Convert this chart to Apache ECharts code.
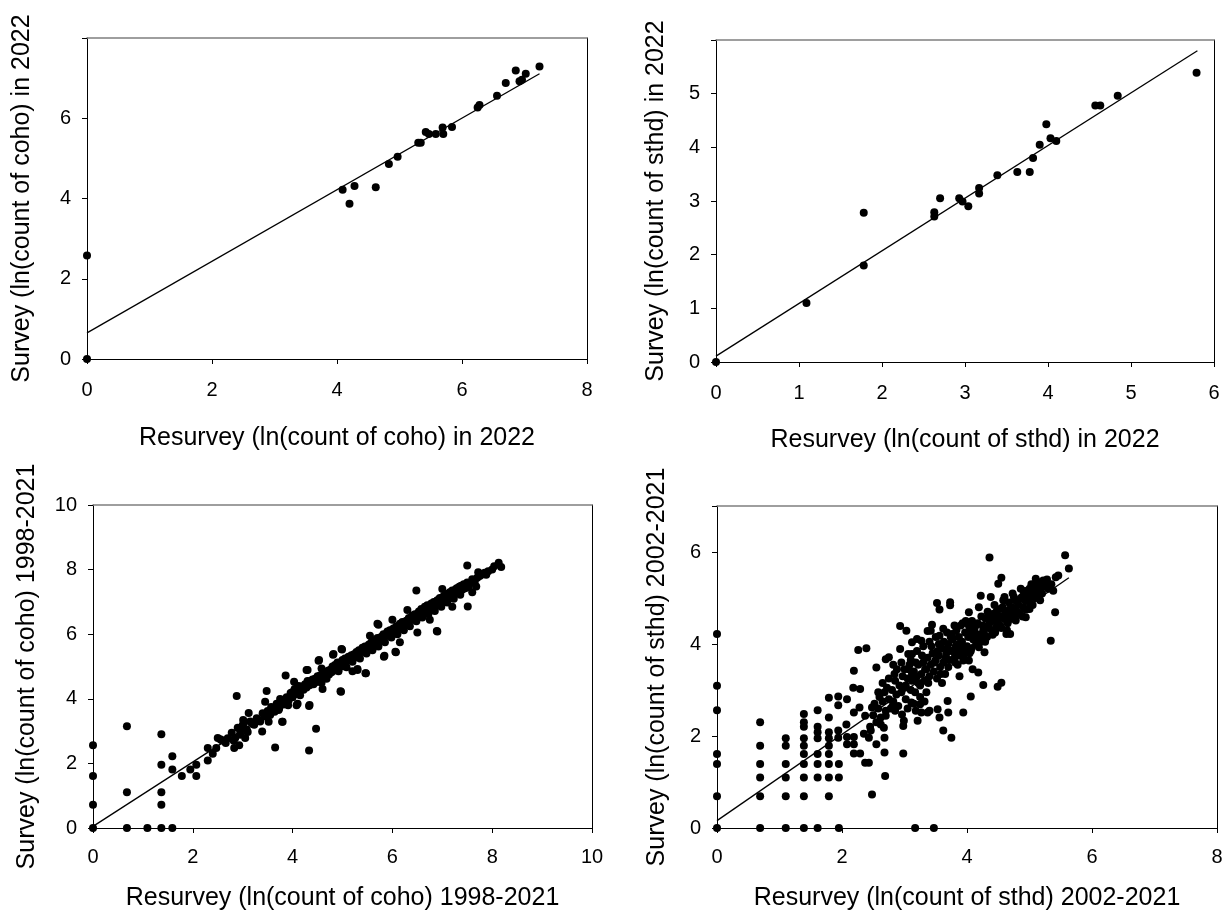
<!DOCTYPE html>
<html>
<head>
<meta charset="utf-8">
<script src="https://cdn.jsdelivr.net/npm/echarts@6/dist/echarts.min.js"></script>
<style>
html,body{margin:0;padding:0;background:#fff;}
#chart{width:1228px;height:922px;}
</style>
</head>
<body>
<div id="chart"></div>
<script>
// ---------- DATA ----------
// Panel A: coho 2022 (x = resurvey, y = survey)
const cohoTwo022 = [
  [0,0],[0,2.58],[4.09,4.22],[4.20,3.87],[4.28,4.31],[4.62,4.28],[4.83,4.86],[4.97,5.04],
  [5.30,5.39],[5.34,5.39],[5.42,5.66],[5.47,5.61],[5.58,5.61],[5.69,5.77],[5.70,5.61],
  [5.84,5.78],[6.25,6.27],[6.28,6.33],[6.56,6.56],[6.70,6.88],[6.86,7.19],[6.92,6.92],
  [6.96,6.96],[7.02,7.11],[7.24,7.29]
];
const cohoTwo022Fit = [[0,0.65],[7.24,7.11]];

// Panel B: steelhead 2022
const sthdTwo022 = [
  [0,0],[1.09,1.10],[1.78,2.78],[1.78,1.80],[2.63,2.79],[2.63,2.71],[2.70,3.05],[2.93,3.05],
  [2.97,2.99],[3.04,2.90],[3.17,3.24],[3.17,3.14],[3.39,3.48],[3.63,3.54],[3.78,3.54],
  [3.82,3.80],[3.90,4.05],[3.98,4.43],[4.03,4.17],[4.10,4.12],[4.57,4.78],[4.63,4.78],
  [4.84,4.96],[5.79,5.39]
];
const sthdTwo022Fit = [[0,0.11],[5.80,5.80]];

// Panel C: coho 1998-2021
const cohoHist = [
  [0,0],[0,0.72],[0,1.61],[0,2.56],[0.68,0],[0.68,1.11],[0.68,3.15],[1.09,0],[1.37,0],
  [1.37,0.72],[1.37,1.11],[1.37,1.96],[1.37,2.90],[1.59,0],[1.59,2.22],[1.59,1.81],
  [1.78,1.61],[1.95,1.81],[2.07,1.96],[2.07,1.61],[2.30,2.09],[2.30,2.48],[2.40,2.30],
  [2.47,2.48],[2.50,2.79],[2.58,2.72],[2.66,2.63],[2.83,2.48],[2.85,2.79],[2.88,4.09],
  [2.93,2.56],[2.95,2.89],[3.00,3.18],[3.01,3.34],[3.05,2.79],[3.10,2.97],[3.12,3.56],
  [3.23,3.20],[3.39,2.99],[3.32,3.34],[3.45,3.91],[3.48,4.24],[3.52,3.29],[3.57,3.75],
  [3.65,2.49],[3.72,3.65],[3.75,3.99],[3.79,3.29],[3.86,4.72],[3.91,3.80],[3.99,4.20],
  [4.03,4.53],[4.08,3.80],[4.15,4.11],[4.19,4.32],[4.30,4.89],[4.33,3.78],[4.33,2.40],
  [4.47,3.07],[4.52,5.18],[4.58,4.94],[4.81,5.36],[4.97,4.22],[4.99,5.53],[5.30,4.89],
  [5.47,4.79],[5.72,6.29],[5.84,5.33],[6.07,5.44],[6.48,7.35],[6.90,6.08],[7.50,8.13],
  [7.51,6.86],[7.72,7.92],[7.68,7.48],[7.88,7.84],[8.04,8.10],[8.13,8.21],[8.18,8.08],
  [2.55,2.75],[2.62,2.70],[2.70,2.78],[2.78,2.95],[2.82,2.70],[2.90,3.10],[2.95,3.00],
  [3.02,3.25],[3.08,3.05],[3.15,3.30],[3.20,3.22],[3.28,3.40],[3.35,3.30],[3.40,3.55],
  [3.44,3.45],[3.50,3.62],[3.55,3.50],[3.60,3.72],[3.64,3.60],[3.68,3.85],[3.73,3.70],
  [3.78,3.95],[3.82,3.82],[3.88,4.05],[3.92,3.95],[3.96,4.18],[4.00,4.05],[4.04,4.30],
  [4.08,4.15],[4.12,4.40],[4.15,4.25],[4.18,4.38],[4.22,4.28],[4.25,4.45],[4.28,4.35],
  [4.30,4.55],[4.34,4.42],[4.37,4.50],[4.40,4.60],[4.42,4.45],[4.45,4.62],[4.48,4.52],
  [4.50,4.70],[4.53,4.58],[4.56,4.65],[4.58,4.50],[4.60,4.75],[4.63,4.68],[4.66,4.80],
  [4.68,4.62],[4.70,4.85],[4.73,4.75],[4.76,4.90],[4.78,4.82],[4.80,5.00],[4.83,4.88],
  [4.85,5.05],[4.88,4.95],[4.90,5.12],[4.92,4.85],[4.95,5.08],[4.98,5.00],[5.00,5.20],
  [5.03,5.10],[5.05,5.25],[5.08,4.98],[5.10,5.18],[5.12,5.30],[5.15,5.22],[5.18,5.35],
  [5.20,5.15],[5.23,5.38],[5.25,5.28],[5.28,5.45],[5.30,5.35],[5.33,5.50],[5.35,5.25],
  [5.38,5.45],[5.40,5.58],[5.43,5.48],[5.45,5.62],[5.48,5.40],[5.50,5.55],[5.53,5.68],
  [5.55,5.60],[5.58,5.75],[5.60,5.50],[5.62,5.70],[5.65,5.82],[5.68,5.72],[5.70,5.88],
  [5.72,5.62],[5.75,5.80],[5.78,5.92],[5.80,5.85],[5.82,6.00],[5.85,5.75],[5.88,5.95],
  [5.90,6.08],[5.92,5.98],[5.95,6.12],[5.98,5.90],[6.00,6.05],[6.02,6.18],[6.05,6.10],
  [6.08,6.25],[6.10,6.00],[6.13,6.20],[6.15,6.32],[6.18,6.22],[6.20,6.38],[6.23,6.12],
  [6.25,6.30],[6.28,6.42],[6.30,6.35],[6.33,6.50],[6.35,6.25],[6.38,6.45],[6.40,6.58],
  [6.42,6.48],[6.45,6.62],[6.48,6.40],[6.50,6.55],[6.53,6.70],[6.55,6.62],[6.58,6.78],
  [6.60,6.52],[6.63,6.68],[6.65,6.85],[6.68,6.75],[6.70,6.90],[6.72,6.62],[6.75,6.80],
  [6.78,6.95],[6.80,6.85],[6.83,7.00],[6.85,6.72],[6.88,6.90],[6.90,7.05],[6.93,6.95],
  [6.95,7.12],[6.98,6.85],[7.00,7.02],[7.03,7.18],[7.05,7.08],[7.08,7.22],[7.10,6.98],
  [7.13,7.12],[7.15,7.30],[7.18,7.20],[7.20,7.35],[7.23,7.10],[7.25,7.25],[7.28,7.40],
  [7.30,7.30],[7.33,7.45],[7.36,7.22],[7.40,7.38],[7.43,7.55],[7.46,7.42],[7.50,7.60],
  [7.53,7.45],[7.56,7.58],[7.60,7.70],[7.65,7.62],[7.70,7.75],[7.75,7.80],[7.80,7.85],
  [7.85,7.90],[7.92,7.95],[8.00,8.00],
  [4.53,5.20],[4.28,4.89],[4.82,5.39],[4.98,5.54],[5.70,6.32],[6.06,5.46],[5.83,5.30],
  [5.46,4.79],[5.30,4.92],[4.96,4.23],[4.34,3.81],[3.80,3.29],[6.89,6.10],[6.30,6.75],
  [6.50,6.05],[6.75,6.45],[7.00,7.40],[5.55,5.95],[5.20,4.85],[6.15,5.75],[7.20,6.85],
  [7.60,7.30],[6.00,6.45],[4.60,4.30],[4.10,3.85],
  [4.02,4.18],[4.06,4.22],[4.10,4.28],[4.14,4.32],[4.20,4.35],[4.24,4.38],[4.27,4.42],
  [4.32,4.48],[4.36,4.55],[4.39,4.48],[4.44,4.55],[4.47,4.62],[4.52,4.65],[4.55,4.72],
  [4.59,4.68],[4.62,4.78],[4.65,4.72],[4.69,4.78],[4.72,4.88],[4.75,4.82],[4.79,4.92],
  [4.82,4.95],[4.86,4.98],[4.89,5.05],[4.93,5.02],[4.96,5.12],[5.01,5.08],[5.04,5.15],
  [5.07,5.22],[5.11,5.25],[5.14,5.28],[5.17,5.22],[5.21,5.32],[5.24,5.35],[5.27,5.38],
  [5.32,5.42],[5.36,5.48],[5.39,5.52],[5.42,5.55],[5.46,5.58],[5.49,5.62],[5.52,5.60],
  [5.56,5.68],[5.59,5.65],[5.63,5.75],[5.66,5.78],[5.69,5.80],[5.73,5.85],[5.76,5.88],
  [5.79,5.85],[5.83,5.95],[5.86,5.98],[5.89,6.02],[5.93,6.05],[5.96,6.02],[5.99,6.12],
  [6.03,6.15],[6.06,6.18],[6.09,6.15],[6.12,6.25],[6.16,6.28],[6.19,6.30],[6.22,6.35],
  [6.26,6.38],[6.29,6.35],[6.32,6.45],[6.36,6.48],[6.39,6.52],[6.43,6.55],[6.46,6.58],
  [6.49,6.62],[6.52,6.65],[6.56,6.68],[6.59,6.72],[6.62,6.75],[6.66,6.78],[6.69,6.82],
  [6.73,6.85],[6.76,6.88],[6.79,6.92],[6.82,6.95],[6.86,6.98],[6.89,7.02],[6.92,7.05],
  [6.96,7.08],[6.99,7.12],[7.02,7.15],[7.06,7.18],[7.09,7.15],[7.12,7.25],[7.16,7.28],
  [7.19,7.32],[7.22,7.30],[7.26,7.38],[7.29,7.42],[7.32,7.38],[7.35,7.48],[7.38,7.50],
  [7.42,7.48]
];
const cohoHistFit = [[0,0.05],[8.18,8.20]];

// Panel D: steelhead 2002-2021
const sthdHist = [
  [0,0],[0,0.69],[0,1.39],[0,1.61],[0,2.56],[0,3.09],[0,4.22],
  [0.69,0],[0.69,0.69],[0.69,1.10],[0.69,1.39],[0.69,1.79],[0.69,2.30],
  [1.10,0],[1.10,0.69],[1.10,1.10],[1.10,1.39],[1.10,1.79],[1.10,1.95],
  [1.39,0],[1.39,0.69],[1.39,1.10],[1.39,1.39],[1.39,1.61],[1.39,1.79],[1.39,1.95],
  [1.39,2.20],[1.39,2.30],[1.39,2.48],
  [1.61,0],[1.61,1.10],[1.61,1.39],[1.61,1.61],[1.61,1.95],[1.61,2.08],[1.61,2.20],[1.61,2.56],
  [1.79,0.69],[1.79,1.10],[1.79,1.39],[1.79,1.61],[1.79,1.79],[1.79,1.95],[1.79,2.08],
  [1.79,2.40],[1.79,2.83],
  [1.95,0],[1.95,1.10],[1.95,1.39],[1.94,1.96],[1.94,2.12],[1.94,2.67],[1.94,2.86],
  [2.08,1.82],[2.08,1.98],[2.08,2.80],[2.07,2.25],
  [2.19,1.62],[2.19,1.82],[2.19,1.98],[2.19,2.51],[2.19,3.42],[2.18,3.05],
  [2.26,3.87],[2.39,3.91],[2.29,3.02],[2.29,1.62],[2.28,2.62],[2.37,2.44],[2.37,1.42],
  [2.43,1.42],[2.43,1.96],[2.46,2.12],[2.48,0.73],[2.55,1.82],[2.62,2.25],[2.67,2.18],
  [2.68,1.96],[2.68,1.64],[2.69,1.13],[2.70,2.44],[2.55,3.49],[2.70,3.67],[2.75,3.71],
  [2.82,3.55],[2.84,3.35],[2.81,2.65],[2.93,3.89],[2.93,4.39],[3.03,4.29],[3.06,3.78],
  [3.12,3.78],[3.20,4.11],[3.27,4.07],[3.12,4.04],[3.42,4.29],[3.44,4.42],[3.37,4.28],
  [3.52,4.89],[3.73,4.91],[3.73,4.84],[3.56,4.75],[3.62,4.33],[3.55,4.00],[3.76,4.22],
  [3.56,4.18],[3.90,4.40],[4.03,4.40],[4.19,4.80],[4.03,4.69],[4.41,4.65],[4.53,4.76],
  [4.56,4.58],[4.66,4.51],[4.78,4.51],[4.94,4.58],[5.00,4.76],[4.63,4.22],[4.69,4.22],
  [4.47,4.36],[4.28,4.15],[4.19,3.93],[4.28,3.82],[4.06,3.85],[4.81,4.65],[3.87,4.00],
  [3.69,3.89],[3.81,3.60],[3.94,3.64],[4.03,3.64],[4.09,3.45],[4.18,3.38],[4.26,3.11],
  [4.49,3.07],[4.55,3.16],[4.06,2.86],[3.94,2.51],[3.75,1.96],[3.62,2.12],[3.70,2.51],
  [3.56,2.40],[3.53,2.58],[3.69,2.76],[3.37,2.51],[3.27,2.51],[3.21,2.33],[2.99,2.33],
  [2.98,2.22],[2.96,2.47],[2.98,1.62],[3.25,2.69],[3.11,2.73],[3.17,0],[3.47,0],
  [4.36,5.88],[5.57,5.93],[5.63,5.64],[5.46,5.49],[4.55,5.44],[4.50,5.31],[5.10,5.42],
  [5.22,5.38],[5.32,5.27],[5.16,5.24],[5.00,5.20],[4.91,5.13],[5.38,5.16],[4.75,5.02],
  [4.88,5.02],[4.60,5.02],[4.22,5.05],[4.38,5.02],[5.41,4.69],[5.34,4.07],
  [2.50,2.45],[2.52,2.70],[2.55,2.30],[2.58,2.60],[2.60,2.85],[2.62,2.40],[2.65,2.75],
  [2.68,2.95],[2.70,2.55],[2.72,3.05],[2.75,2.80],[2.78,2.60],[2.80,3.00],[2.82,2.75],
  [2.85,3.20],[2.87,2.90],[2.90,2.65],[2.92,3.10],[2.95,2.95],[2.97,3.30],[3.00,3.05],
  [3.02,2.80],[3.05,3.25],[3.07,3.45],[3.10,3.00],[3.12,3.20],[3.15,3.40],[3.17,2.95],
  [3.20,3.30],[3.22,3.55],[3.25,3.10],[3.27,3.35],[3.30,3.60],[3.32,3.20],[3.35,3.45],
  [3.37,3.70],[3.40,3.30],[3.42,3.55],[3.45,3.80],[3.47,3.40],[3.50,3.65],[3.52,3.25],
  [3.55,3.75],[3.57,3.50],[3.60,3.90],[3.62,3.60],[3.65,3.35],[3.67,3.80],[3.70,4.00],
  [3.72,3.65],[3.75,3.85],[3.77,4.10],[3.80,3.70],[3.82,3.95],[3.85,3.55],[3.87,4.15],
  [3.90,3.85],[3.92,4.05],[3.95,3.75],[3.97,4.25],[4.00,3.95],[4.02,4.15],[4.05,4.35],
  [4.07,3.90],[4.10,4.10],[4.12,4.30],[4.15,4.00],[4.17,4.45],[4.20,4.20],[4.22,4.05],
  [4.25,4.40],[4.27,4.25],[4.30,4.55],[4.32,4.15],[4.35,4.35],[4.37,4.60],[4.40,4.30],
  [4.42,4.50],[4.45,4.25],[4.47,4.70],[4.50,4.45],[4.52,4.60],[4.55,4.35],[4.57,4.80],
  [4.60,4.55],[4.62,4.70],[4.65,4.45],[4.67,4.90],[4.70,4.60],[4.72,4.80],[4.75,4.55],
  [4.77,4.95],[4.80,4.70],[4.82,4.85],[4.85,4.65],[4.87,5.00],[4.90,4.80],[4.92,4.95],
  [4.95,4.75],[4.97,5.10],[5.00,4.90],[5.02,5.05],[5.05,4.85],[5.07,5.15],[5.10,5.00],
  [5.12,5.20],[5.15,5.05],[5.18,5.25],[5.20,5.10],[5.25,5.30],[5.30,5.20],
  [3.05,2.60],[3.15,2.70],[3.25,2.85],[3.35,2.95],[3.40,2.55],[2.45,2.20],[2.35,2.05],
  [2.88,3.45],[2.95,3.60],[3.02,3.10],[3.08,3.55],[3.12,3.35],[3.18,3.60],[3.22,3.15],
  [3.28,3.75],[3.33,3.45],[3.38,3.15],[3.43,3.95],[3.48,3.60],[3.53,3.85],[3.58,3.35],
  [3.63,4.05],[3.66,3.70],[3.70,3.50],[3.74,4.15],[3.78,3.85],[3.83,4.30],[3.86,3.75],
  [3.89,4.00],[3.93,4.45],[3.96,3.90],[4.01,4.25],[4.04,3.80],[4.08,4.50],[4.11,4.20],
  [4.14,4.40],[4.18,4.15],[4.23,4.60],[4.26,4.30],[4.29,4.05],[4.33,4.70],[4.36,4.45],
  [4.41,4.20],[4.44,4.85],[4.48,4.55],[4.53,4.40],[4.58,4.95],[4.61,4.65],[4.64,4.30],
  [4.68,4.75],[4.73,5.10],[4.76,4.70],[4.81,4.95],[4.86,5.20],[4.89,4.60],[4.93,5.15],
  [4.98,4.95],[5.03,5.30],[5.08,5.10],[5.13,5.35],[5.17,4.95],[5.22,5.25],[5.28,5.40],
  [5.35,5.30],[5.42,5.45],[3.00,3.45],[3.10,3.65],[3.20,3.85],[3.30,3.95],[3.40,4.05],
  [3.50,4.15],[3.60,3.15],[3.68,4.25],[3.80,4.40],[3.88,3.30],[3.98,4.50],[2.75,3.25],
  [2.65,3.15],[2.85,2.55],[2.58,2.95],[2.48,2.62],[3.18,2.55],[3.32,2.75]
];
const sthdHistFit = [[0,0.16],[5.63,5.44]];

// Axis titles
const xTitles = [
  'Resurvey (ln(count of coho) in 2022',
  'Resurvey (ln(count of sthd) in 2022',
  'Resurvey (ln(count of coho) 1998-2021',
  'Resurvey (ln(count of sthd) 2002-2021'
];
const yTitles = [
  'Survey (ln(count of coho) in 2022',
  'Survey (ln(count of sthd) in 2022',
  'Survey (ln(count of coho) 1998-2021',
  'Survey (ln(count of sthd) 2002-2021'
];
// Axis ranges [min, max, interval, hiddenLabelValue]
const xRanges = [[0,8,2],[0,6,1],[0,10,2],[0,8,2]];
const yRanges = [[0,8,2,8],[0,6,1,6],[0,10,2,null],[0,7,2,7]];

// ---------- CHART ----------
const FONT = 'Liberation Sans, Arial, sans-serif';
const grids = [
  {left: 87,  top: 38,  width: 500, height: 321},
  {left: 716, top: 40,  width: 498, height: 322},
  {left: 93,  top: 505, width: 499, height: 323},
  {left: 717, top: 506, width: 500, height: 322}
];
const xNameGap = [67, 66, 58, 58];
const xLabelMargin = [21, 21, 19, 19];
const yNameGap = [52, 47, 53, 47];

const xAxes = [], yAxes = [];
for (let i = 0; i < 4; i++) {
  const xr = xRanges[i], yr = yRanges[i];
  xAxes.push({
    type: 'value', gridIndex: i, min: xr[0], max: xr[1], interval: xr[2],
    name: xTitles[i], nameLocation: 'middle', nameGap: xNameGap[i],
    nameTextStyle: {fontSize: 25, color: '#000', fontFamily: FONT},
    axisLine: {show: true, onZero: false, lineStyle: {color: '#000', width: 1}},
    axisTick: {show: true, inside: false, length: 5, lineStyle: {color: '#000'}},
    axisLabel: {fontSize: 20, color: '#000', fontFamily: FONT, margin: xLabelMargin[i]},
    splitLine: {show: false}
  });
  yAxes.push({
    type: 'value', gridIndex: i, min: yr[0], max: yr[1], interval: yr[2],
    name: yTitles[i], nameLocation: 'middle', nameGap: yNameGap[i],
    nameTextStyle: {fontSize: 25, color: '#000', fontFamily: FONT},
    axisLine: {show: true, onZero: false, lineStyle: {color: '#000', width: 1}},
    axisTick: {show: true, inside: false, length: 5, lineStyle: {color: '#000'}},
    axisLabel: {
      fontSize: 20, color: '#000', fontFamily: FONT, margin: 16,
      formatter: (v) => (v === yr[3] || (v % yr[2]) !== 0) ? '' : String(v)
    },
    splitLine: {show: false}
  });
}
// top borders (gray) and right borders
for (let i = 0; i < 4; i++) {
  xAxes.push({
    type: 'value', gridIndex: i, position: 'top', min: xRanges[i][0], max: xRanges[i][1],
    axisLine: {show: true, onZero: false, lineStyle: {color: '#7f7f7f', width: 1.5}},
    axisTick: {show: false}, axisLabel: {show: false}, splitLine: {show: false}
  });
  yAxes.push({
    type: 'value', gridIndex: i, position: 'right', min: yRanges[i][0], max: yRanges[i][1],
    axisLine: {show: true, onZero: false, lineStyle: {color: '#000', width: 1}},
    axisTick: {show: false}, axisLabel: {show: false}, splitLine: {show: false}
  });
}

const scatterData = [cohoTwo022, sthdTwo022, cohoHist, sthdHist];
const fitData = [cohoTwo022Fit, sthdTwo022Fit, cohoHistFit, sthdHistFit];
const series = [];
for (let i = 0; i < 4; i++) {
  series.push({
    type: 'scatter', xAxisIndex: i, yAxisIndex: i, data: scatterData[i],
    symbol: 'circle', symbolSize: 8, itemStyle: {color: '#000', opacity: 1},
    silent: true, clip: false
  });
  series.push({
    type: 'line', xAxisIndex: i, yAxisIndex: i, data: fitData[i],
    symbol: 'none', lineStyle: {color: '#000', width: 1.3}, silent: true, z: 3
  });
}

const chart = echarts.init(document.getElementById('chart'), null, {renderer: 'canvas'});
chart.setOption({
  animation: false,
  backgroundColor: '#fff',
  textStyle: {fontFamily: FONT},
  grid: grids,
  xAxis: xAxes,
  yAxis: yAxes,
  series: series
});
</script>
</body>
</html>
